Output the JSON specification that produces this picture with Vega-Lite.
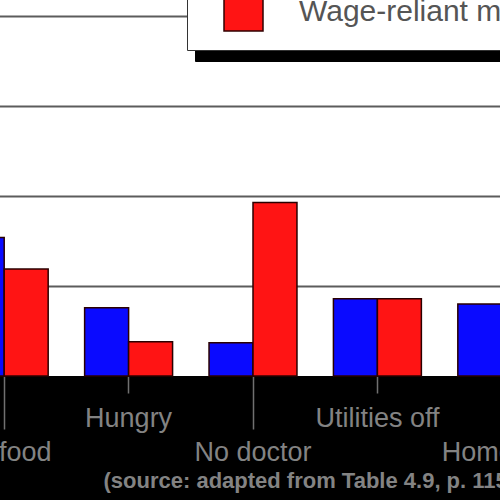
{
  "$schema": "https://vega.github.io/schema/vega-lite/v6.json",
  "width": 500,
  "height": 376,
  "autosize": {"type": "none"},
  "padding": {"left": 0, "right": 0, "top": 0, "bottom": 124},
  "background": "#000000",
  "view": {"fill": "#ffffff", "stroke": null},
  "data": {
    "values": [
      {"problem": "No food", "group": "Welfare-reliant mothers", "percent": 15.4},
      {"problem": "No food", "group": "Wage-reliant mothers", "percent": 11.9},
      {"problem": "Hungry", "group": "Welfare-reliant mothers", "percent": 7.6},
      {"problem": "Hungry", "group": "Wage-reliant mothers", "percent": 3.8},
      {"problem": "No doctor", "group": "Welfare-reliant mothers", "percent": 3.7},
      {"problem": "No doctor", "group": "Wage-reliant mothers", "percent": 19.3},
      {"problem": "Utilities off", "group": "Welfare-reliant mothers", "percent": 8.6},
      {"problem": "Utilities off", "group": "Wage-reliant mothers", "percent": 8.6},
      {"problem": "Homeless", "group": "Welfare-reliant mothers", "percent": 8.0},
      {"problem": "Homeless", "group": "Wage-reliant mothers", "percent": 6.0}
    ]
  },
  "mark": {"type": "bar", "stroke": "#2a0000", "strokeWidth": 1.5},
  "encoding": {
    "x": {
      "field": "problem",
      "type": "nominal",
      "sort": ["No food", "Hungry", "No doctor", "Utilities off", "Homeless"],
      "scale": {"range": [-58, 564], "paddingInner": 0.293, "paddingOuter": 0.1465},
      "axis": {
        "title": "(source: adapted from Table 4.9, p. 115)",
        "domain": false,
        "labelAngle": 0,
        "labelFont": "Liberation Sans",
        "labelFontSize": 27,
        "labelColor": "#838383",
        "labelOverlap": false,
        "labelFlush": false,
        "labelBound": false,
        "labelLimit": 1000,
        "tickColor": "#707070",
        "tickWidth": 1.5,
        "tickSize": {"condition": {"test": "datum.value == 'Hungry' || datum.value == 'Utilities off'", "value": 17}, "value": 53},
        "labelPadding": {"condition": {"test": "datum.value == 'Hungry' || datum.value == 'Utilities off'", "value": 12}, "value": 10},
        "titleFont": "Liberation Sans",
        "titleFontSize": 22,
        "titleFontWeight": "bold",
        "titleColor": "#838383",
        "titleX": 103,
        "titleY": 111,
        "titleAlign": "left",
        "titleBaseline": "alphabetic"
      }
    },
    "xOffset": {"field": "group", "type": "nominal", "sort": ["Welfare-reliant mothers", "Wage-reliant mothers"]},
    "y": {
      "field": "percent",
      "type": "quantitative",
      "scale": {"domain": [0, 41.8], "nice": false},
      "axis": {
        "title": null,
        "labels": false,
        "ticks": false,
        "domain": false,
        "grid": true,
        "gridColor": "#5c5c5c",
        "gridWidth": 2,
        "values": [10, 20, 30, 40]
      }
    },
    "color": {
      "field": "group",
      "type": "nominal",
      "scale": {"domain": ["Welfare-reliant mothers", "Wage-reliant mothers"], "range": ["#0a0aff", "#ff1414"]},
      "legend": {
        "orient": "none",
        "legendX": 187,
        "legendY": -84,
        "fillColor": "#ffffff",
        "strokeColor": "#333333",
        "symbolStrokeColor": "#300000",
        "labelColor": "#555555",
        "zindex": 1
      }
    },
    "opacity": {
      "field": "group",
      "type": "nominal",
      "scale": {"domain": ["Wage-reliant mothers", "Welfare-reliant mothers"], "range": [1, 1]},
      "legend": {
        "orient": "none",
        "legendX": 195,
        "legendY": -73,
        "fillColor": "#000000",
        "strokeColor": "#000000",
        "symbolFillColor": "#000000",
        "symbolStrokeColor": "#000000",
        "labelColor": "#000000",
        "zindex": 0
      }
    }
  },
  "config": {
    "legend": {
      "title": null,
      "padding": 16,
      "symbolOffset": 20,
      "labelOffset": 35,
      "symbolSize": 1521,
      "symbolType": "square",
      "symbolStrokeWidth": 1.5,
      "labelFont": "Liberation Sans",
      "labelFontSize": 30,
      "labelLimit": 1000,
      "rowPadding": 14
    }
  }
}
